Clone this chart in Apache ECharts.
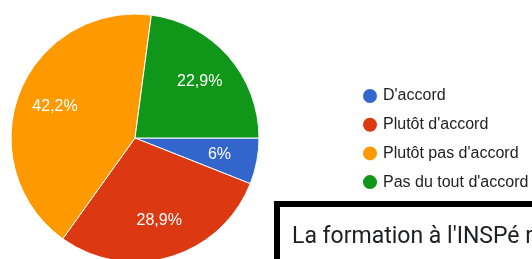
<!DOCTYPE html>
<html>
<head>
<meta charset="utf-8">
<script src="https://cdn.jsdelivr.net/npm/echarts@6/dist/echarts.min.js"></script>
<style>
  html, body { margin: 0; padding: 0; background: #fff; }
  #main { width: 532px; height: 259px; }
</style>
</head>
<body>
<div id="main"></div>
<script>
// réponses (en %)
var categories = ["D'accord", "Plutôt d'accord", "Plutôt pas d'accord", "Pas du tout d'accord"];
var values = [6, 28.9, 42.2, 22.9];
var colors = ['#3366cc', '#dc3912', '#ff9900', '#109618'];
var questionText = "La formation à l'INSPé r";

var pieData = categories.map(function (name, i) {
  return { name: name, value: values[i], itemStyle: { color: colors[i] } };
});

var chart = echarts.init(document.getElementById('main'));
chart.setOption({
  animation: false,
  legend: {
    orient: 'vertical',
    left: 356,
    top: 82,
    padding: 5,
    icon: 'circle',
    itemWidth: 16,
    itemHeight: 16,
    itemGap: 10.7,
    data: categories,
    textStyle: { fontFamily: 'Liberation Sans, Arial', fontSize: 16, lineHeight: 16, color: '#222' }
  },
  series: [
    {
      type: 'pie',
      center: [135, 138],
      radius: 124,
      startAngle: 0,
      clockwise: true,
      label: { show: false },
      labelLine: { show: false },
      itemStyle: { borderColor: '#fff', borderWidth: 1 },
      emphasis: { disabled: true },
      data: pieData
    },
    {
      // étiquettes seulement
      type: 'pie',
      center: [135, 138],
      radius: [42, 124],
      startAngle: 0,
      clockwise: true,
      silent: true,
      itemStyle: { color: 'rgba(0,0,0,0)' },
      label: {
        show: true,
        position: 'inside',
        color: '#fff',
        fontFamily: 'Liberation Sans, Arial',
        fontSize: 16,
        formatter: function (p) { return String(p.value).replace('.', ',') + '%'; }
      },
      labelLine: { show: false },
      emphasis: { disabled: true },
      data: categories.map(function (name, i) { return { name: name, value: values[i] }; })
    }
  ],
  graphic: [
    {
      type: 'rect',
      shape: { x: 277, y: 204, width: 320, height: 120 },
      style: { fill: '#fff', stroke: '#000', lineWidth: 6 }
    },
    {
      type: 'text',
      x: 292,
      y: 237,
      style: { text: questionText, font: '23px Roboto', fill: '#202124', verticalAlign: 'middle' }
    }
  ]
});
</script>
</body>
</html>
